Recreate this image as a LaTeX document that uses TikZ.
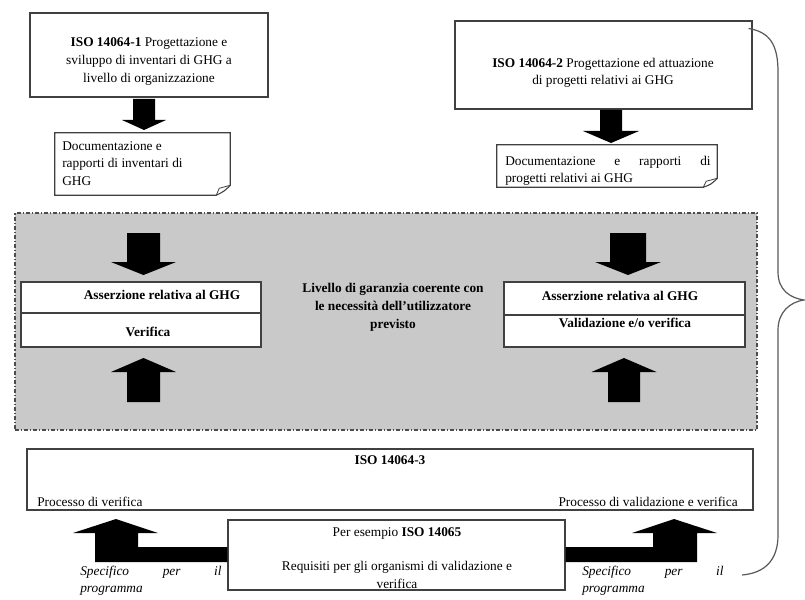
\documentclass[tikz,border=0pt]{standalone}
\usepackage{fontspec}
\setmainfont{Liberation Serif}
\usetikzlibrary{calc}
\begin{document}
\begin{tikzpicture}[x=0.75pt,y=-0.75pt,
  box/.style={draw=black!75, line width=0.8pt, fill=white, inner sep=0pt},
  sz/.style 2 args={minimum width=#1*0.75pt, minimum height=#2*0.75pt},
  txt/.style={font=\fontsize{10}{13.2}\selectfont, inner sep=0pt, anchor=base},
  btxt/.style={txt, font=\fontsize{10}{13.2}\selectfont\bfseries},
  itxt/.style={txt, font=\fontsize{10}{13.2}\selectfont\itshape},
  blk/.style={fill=black},
  brace/.style={draw=black!65, line width=0.9pt},
  graybox/.style={fill=black!21, draw=black!70, line width=0.8pt, dash pattern=on 3pt off 1.5pt on 0.8pt off 1.5pt}
]
\useasboundingbox (0,0) rectangle (805,599);
\fill[white] (0,0) rectangle (805,599);

% ---- block arrows: (cx, ytop, ytip, shaft hw, head hw, head len)
\newcommand{\bdown}[6]{\fill[blk] ({#1-#4},#2) -- ({#1+#4},#2) -- ({#1+#4},{#3-#6}) -- ({#1+#5},{#3-#6}) -- (#1,#3) -- ({#1-#5},{#3-#6}) -- ({#1-#4},{#3-#6}) -- cycle;}
\newcommand{\bup}[6]{\fill[blk] ({#1-#4},#2) -- ({#1+#4},#2) -- ({#1+#4},{#3+#6}) -- ({#1+#5},{#3+#6}) -- (#1,#3) -- ({#1-#5},{#3+#6}) -- ({#1-#4},{#3+#6}) -- cycle;}

% ---- top left
\node[box, sz={238}{84}] (iso1) at (149,55) {};
\node[txt] (iso1a) at (149,47) {\textbf{ISO 14064-1} Progettazione e};
\node[txt] (iso1b) at (149,65) {sviluppo di inventari di GHG a};
\node[txt] (iso1c) at (149,83) {livello di organizzazione};
\bdown{144}{99}{130}{11}{22}{10}
\node[sz={175}{62}, inner sep=0pt] (doc1) at (142.5,164) {};
\draw[box] (doc1.north west) -- (doc1.north east) -- ($(doc1.south east)+(0,-10)$)
  .. controls ($(doc1.south east)+(-6,-4)$) .. ($(doc1.south east)+(-14,0)$) -- (doc1.south west) -- cycle;
\draw[draw=black!75, line width=0.6pt] ($(doc1.south east)+(-14,0)$) -- ($(doc1.south east)+(-11,-7)$) -- ($(doc1.south east)+(0,-10)$);
\node[txt, anchor=base west] (doc1a) at (62,150) {Documentazione e};
\node[txt, anchor=base west] (doc1b) at (62,167.5) {rapporti di inventari di};
\node[txt, anchor=base west] (doc1c) at (62,185) {GHG};

% ---- top right
\node[box, sz={297}{88}] (iso2) at (603.5,65) {};
\node[txt] (iso2a) at (603,68) {\textbf{ISO 14064-2} Progettazione ed attuazione};
\node[txt] (iso2b) at (603,85) {di progetti relativi ai GHG};
\bdown{611}{110}{143}{11}{28}{12}
\node[sz={220}{42}, inner sep=0pt] (doc2) at (607,166) {};
\draw[box] (doc2.north west) -- (doc2.north east) -- ($(doc2.south east)+(0,-9)$)
  .. controls ($(doc2.south east)+(-6,-3)$) .. ($(doc2.south east)+(-14,0)$) -- (doc2.south west) -- cycle;
\draw[draw=black!75, line width=0.6pt] ($(doc2.south east)+(-14,0)$) -- ($(doc2.south east)+(-11,-6)$) -- ($(doc2.south east)+(0,-9)$);
\node[txt, anchor=base west] (doc2a) at (505,165) {\hbox to 154pt{Documentazione\hfill e\hfill rapporti\hfill di}};
\node[txt, anchor=base west] (doc2b) at (505,182) {progetti relativi ai GHG};

% ---- gray band
\node[graybox, sz={742}{217}] (gray) at (386,321.5) {};
\bdown{143.5}{233}{275}{16.5}{32.5}{13}
\bup{143.5}{402}{358}{16.5}{32.5}{14}
\bdown{628}{233}{275}{18}{33}{13}
\bup{624}{402}{358}{16}{32.5}{14}

\node[box, sz={240}{31}] (la) at (141,297.5) {};
\node[box, sz={240}{34}] (lb) at (141,330) {};
\node[btxt] (lat) at (162,299) {Asserzione relativa al GHG};
\node[btxt] (lbt) at (148,336) {Verifica};

\node[box, sz={241}{33}] (ra) at (624.5,298.5) {};
\node[box, sz={241}{32}] (rb) at (624.5,331) {};
\node[btxt] (rat) at (620,300) {Asserzione relativa al GHG};
\node[btxt] (rbt) at (625,327) {Validazione e/o verifica};

\node[btxt] (mida) at (393,292) {Livello di garanzia coerente con};
\node[btxt] (midb) at (393,310) {le necessità dell'utilizzatore};
\node[btxt] (midc) at (393,328) {previsto};

% ---- ISO 14064-3
\node[box, sz={726}{61}] (iso3) at (390,479.5) {};
\node[btxt] (iso3t) at (390,464) {ISO 14064-3};
\node[txt, anchor=base west] (pv) at (37,506) {Processo di verifica};
\node[txt, anchor=base east] (pvv) at (738,506) {Processo di validazione e verifica};

% ---- bottom box
\node[box, sz={337}{70}] (iso5) at (396.5,555) {};
\node[txt] (iso5a) at (397,536) {Per esempio \textbf{ISO 14065}};
\node[txt] (iso5b) at (397,570) {Requisiti per gli organismi di validazione e};
\node[txt] (iso5c) at (397,588) {verifica};
\draw[draw=black!75, line width=0.8pt] (iso5.south west) -- (iso5.south east);

% ---- bent arrows
\fill[blk] (iso5.west |- 0,547) -- (138,547) -- (138,533) -- (158,533) -- (116,519) -- (73,533) -- (95,533) -- (95,562) -- (iso5.west |- 0,562) -- cycle;
\fill[blk] (iso5.east |- 0,547) -- (653,547) -- (653,533) -- (632,533) -- (674,519) -- (717,533) -- (697,533) -- (697,562) -- (iso5.east |- 0,562) -- cycle;

\node[itxt, anchor=base west] (spla) at (80,575) {\hbox to 106pt{Specifico\hfill per\hfill il}};
\node[itxt, anchor=base west] (splb) at (80,592) {programma};
\node[itxt, anchor=base west] (spra) at (582,575) {\hbox to 106pt{Specifico\hfill per\hfill il}};
\node[itxt, anchor=base west] (sprb) at (582,592) {programma};

% ---- brace
\draw[brace] (iso2.north east) ++(-4,8) .. controls (770,32) and (778,45) .. (778,72)
  -- (778,272) .. controls (778,290) and (790,298) .. (804,300)
  .. controls (790,302) and (778,312) .. (778,330)
  -- (778,535) .. controls (778,560) and (765,573) .. (742,575);
\end{tikzpicture}
\end{document}
